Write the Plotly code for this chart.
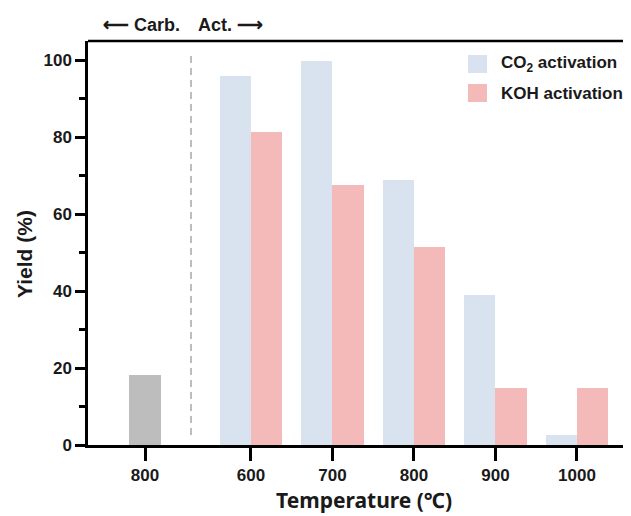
import plotly.graph_objects as go

# ---- data ----
carb_label = "800"
carb_yield = [18.3]
act_labels = ["600", "700", "800", "900", "1000"]
co2_yield = [96.0, 99.7, 68.8, 39.0, 2.5]
koh_yield = [81.4, 67.6, 51.5, 14.8, 14.8]

# ---- layout helpers (positions computed, not data) ----
OFF = 8              # default page body margin
W, H = 631 - OFF, 516 - OFF
ML, MR, MT, MB = 80, 0, 33, 71
gap = 1.3           # spacing between carbonization group and activation groups
bw = 0.384          # bar width in category units
carb_pos = [0.0]
act_pos = [gap + i for i in range(len(act_labels))]
sep_x = 0.564

FONT = "Liberation Sans, Arial, sans-serif"
CO2_C = "#D9E2EF"
KOH_C = "#F4B9B9"
GRAY_C = "#BDBDBD"

fig = go.Figure()
fig.add_trace(go.Bar(x=carb_pos, y=carb_yield, width=[bw], marker_color=GRAY_C,
                     marker_line_width=0, name="Carbonization", showlegend=False))
fig.add_trace(go.Bar(x=[p - bw / 2 for p in act_pos], y=co2_yield, width=[bw] * len(act_pos),
                     marker_color=CO2_C, marker_line_width=0,
                     name="CO<sub>2</sub> activation", showlegend=False))
fig.add_trace(go.Bar(x=[p + bw / 2 for p in act_pos], y=koh_yield, width=[bw] * len(act_pos),
                     marker_color=KOH_C, marker_line_width=0,
                     name="KOH activation", showlegend=False))

pw = W - ML - MR
ph = H - MT - MB
def px_x(x):  # window pixel -> paper
    return (x - OFF - ML) / pw
def px_y(y):
    return (H - MB - (y - OFF)) / ph

shapes = [
    dict(type="line", xref="x", yref="y", x0=sep_x, x1=sep_x, y0=2.6, y1=102.2,
         line=dict(color=GRAY_C, width=2, dash="7px,5px")),
    dict(type="line", xref="paper", yref="paper", x0=0, x1=1, y0=1, y1=1,
         line=dict(color="black", width=2.5)),
    dict(type="rect", xref="paper", yref="paper", x0=px_x(468), x1=px_x(487),
         y0=px_y(73), y1=px_y(55), fillcolor=CO2_C, line_width=0),
    dict(type="rect", xref="paper", yref="paper", x0=px_x(468), x1=px_x(487),
         y0=px_y(102), y1=px_y(84), fillcolor=KOH_C, line_width=0),
]

annotations = [
    dict(xref="paper", yref="paper", x=px_x(499), y=px_y(64), xanchor="left", yanchor="middle",
         text="<b>CO<sub>2</sub> activation</b>", showarrow=False,
         font=dict(family=FONT, size=17, color="#1a1a1a")),
    dict(xref="paper", yref="paper", x=px_x(499), y=px_y(93), xanchor="left", yanchor="middle",
         text="<b>KOH activation</b>", showarrow=False,
         font=dict(family=FONT, size=17, color="#1a1a1a")),
    dict(xref="x", yref="paper", x=sep_x, y=px_y(25), xanchor="right", yanchor="middle", xshift=-9,
         text="<b>\u27f5 Carb.</b>", showarrow=False,
         font=dict(family=FONT, size=18, color="#1a1a1a")),
    dict(xref="x", yref="paper", x=sep_x, y=px_y(25), xanchor="left", yanchor="middle", xshift=5,
         text="<b>Act. \u27f6</b>", showarrow=False,
         font=dict(family=FONT, size=18, color="#1a1a1a")),
    dict(xref="paper", yref="paper", x=px_x(24), y=px_y(254), xanchor="center", yanchor="middle",
         textangle=-90, text="<b>Yield (%)</b>", showarrow=False,
         font=dict(family=FONT, size=21, color="#1a1a1a")),
    dict(xref="paper", yref="paper", x=px_x(364), y=px_y(500), xanchor="center", yanchor="middle",
         text="<b>Temperature (℃)</b>", showarrow=False,
         font=dict(family="Noto Sans, sans-serif", size=21, color="#1a1a1a")),
]

fig.update_layout(
    width=W, height=H,
    margin=dict(l=ML, r=MR, t=MT, b=MB, pad=0),
    plot_bgcolor="white", paper_bgcolor="white",
    barmode="overlay", bargap=0,
    shapes=shapes, annotations=annotations,
    showlegend=False,
    font=dict(family=FONT, color="#1a1a1a"),
)

fig.update_xaxes(
    range=[-0.70, 5.963],
    tickmode="array",
    tickvals=carb_pos + act_pos,
    ticktext=["<b>%s</b>" % t for t in [carb_label] + act_labels],
    tickfont=dict(family=FONT, size=17, color="#1a1a1a"),
    ticks="outside", ticklen=13, tickwidth=2.5, tickcolor="black",
    showline=True, linecolor="black", linewidth=2.5,
    showgrid=False, zeroline=False,
)
fig.update_yaxes(
    range=[0, 105],
    tickmode="array",
    tickvals=[0, 20, 40, 60, 80, 100],
    ticktext=["<b>%d</b>" % v for v in [0, 20, 40, 60, 80, 100]],
    tickfont=dict(family=FONT, size=17, color="#1a1a1a"),
    ticks="outside", ticklen=10, tickwidth=2.5, tickcolor="black",
    minor=dict(tickvals=[10, 30, 50, 70, 90], ticks="outside", ticklen=6, tickwidth=2.5, tickcolor="black"),
    showline=True, linecolor="black", linewidth=2.5,
    showgrid=False, zeroline=False,
)

fig.write_html("out.html")
